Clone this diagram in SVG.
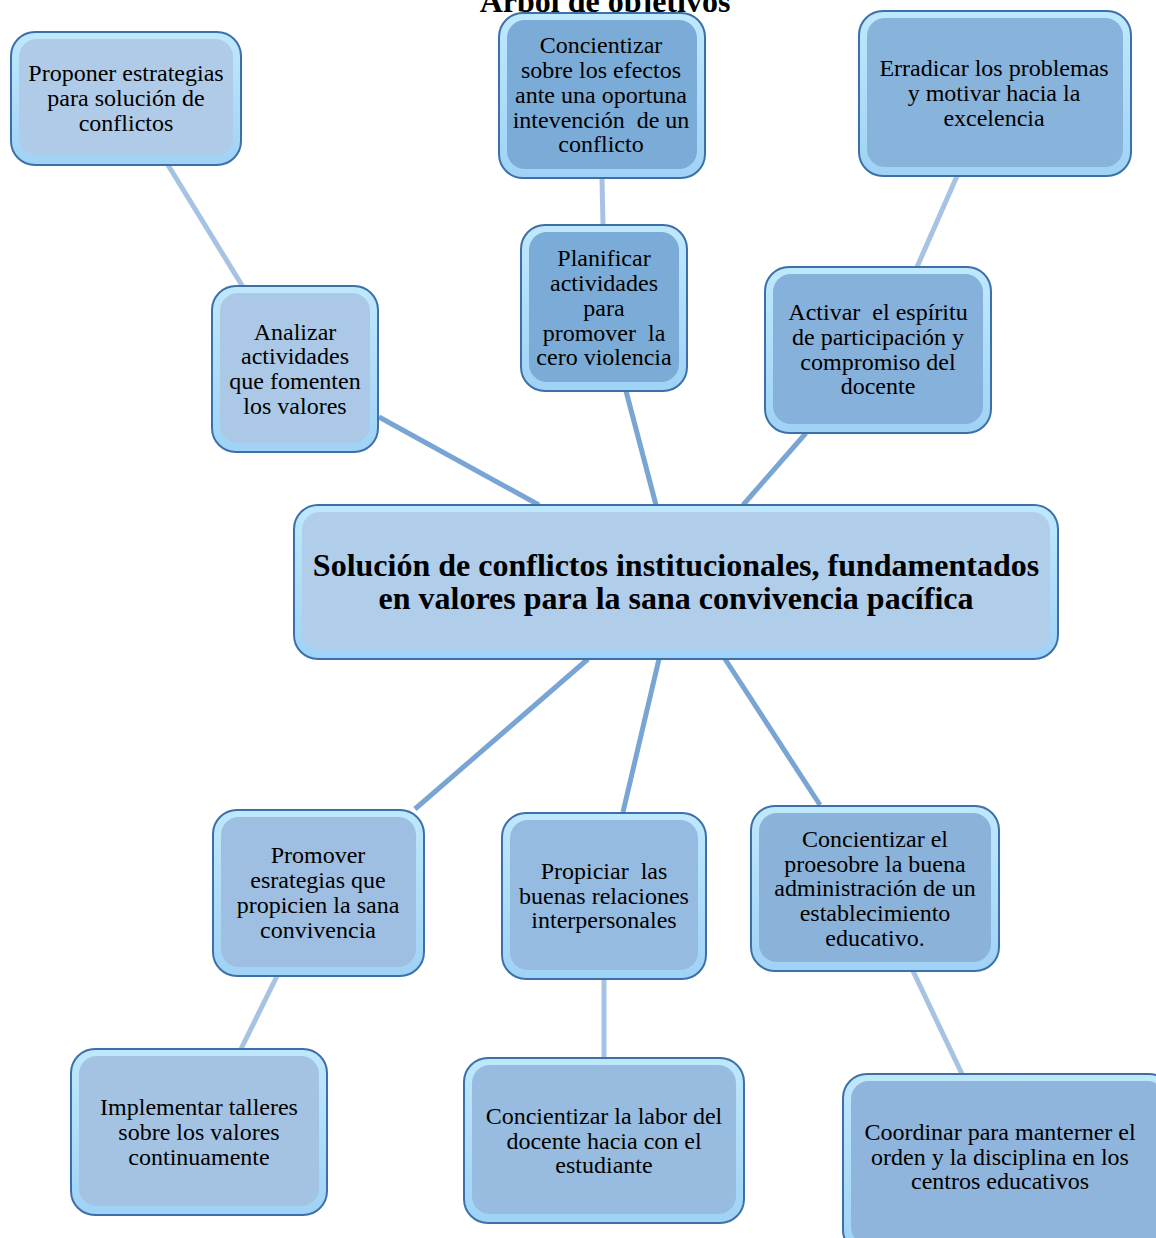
<svg xmlns="http://www.w3.org/2000/svg" width="1156" height="1238" viewBox="0 0 1156 1238">
<defs>
<linearGradient id="rim" x1="0" y1="0" x2="0" y2="1">
<stop offset="0" stop-color="#bfe8fd"/>
<stop offset="1" stop-color="#9fd2f5"/>
</linearGradient>
</defs>
<style>
.outer{fill:url(#rim);stroke:#3c70a9;stroke-width:2}
.t{font-family:"Liberation Serif","Times New Roman",serif;font-size:24px;fill:#000;text-anchor:middle}
.tb{font-family:"Liberation Serif","Times New Roman",serif;font-size:32px;font-weight:bold;fill:#000;text-anchor:middle}
.title{font-family:"Liberation Serif","Times New Roman",serif;font-size:32px;font-weight:bold;fill:#000;text-anchor:middle}
.cl{stroke:#a7c3e3;stroke-width:5;fill:none}
.cd{stroke:#78a5d4;stroke-width:5;fill:none}
</style>
<rect width="1156" height="1238" fill="#ffffff"/>
<text class="title" x="605" y="12">Árbol de objetivos</text>
<g id="connectors">
<line class="cl" x1="168" y1="165" x2="243" y2="287"/>
<line class="cl" x1="602" y1="178" x2="603" y2="225"/>
<line class="cl" x1="957" y1="176" x2="917" y2="267"/>
<line class="cd" x1="379" y1="417" x2="539" y2="505"/>
<line class="cd" x1="626" y1="391" x2="656" y2="505"/>
<line class="cd" x1="806" y1="433" x2="743" y2="505"/>
<line class="cd" x1="588" y1="659" x2="415" y2="809"/>
<line class="cd" x1="659" y1="659" x2="623" y2="812"/>
<line class="cd" x1="725" y1="659" x2="820" y2="805"/>
<line class="cl" x1="277" y1="976" x2="241" y2="1049"/>
<line class="cl" x1="604" y1="979" x2="604" y2="1058"/>
<line class="cl" x1="913" y1="971" x2="962" y2="1074"/>
</g>
<g id="n1">
<rect class="outer" x="11" y="32" width="230" height="133" rx="24"/>
<rect x="19" y="39" width="214" height="117" rx="18" fill="#afcbe7"/>
<text class="t" x="126" y="81">Proponer estrategias</text>
<text class="t" x="126" y="106">para solución de</text>
<text class="t" x="126" y="131">conflictos</text>
</g>
<g id="n2">
<rect class="outer" x="499" y="13" width="206" height="165" rx="24"/>
<rect x="507" y="20" width="190" height="149" rx="18" fill="#7bacd7"/>
<text class="t" x="601" y="53">Concientizar</text>
<text class="t" x="601" y="78">sobre los efectos</text>
<text class="t" x="601" y="103">ante una oportuna</text>
<text class="t" x="601" y="128" xml:space="preserve">intevención  de un</text>
<text class="t" x="601" y="152">conflicto</text>
</g>
<g id="n3">
<rect class="outer" x="859" y="11" width="272" height="165" rx="24"/>
<rect x="867" y="18" width="256" height="149" rx="18" fill="#88b3da"/>
<text class="t" x="994" y="76">Erradicar los problemas</text>
<text class="t" x="994" y="101">y motivar hacia la</text>
<text class="t" x="994" y="126">excelencia</text>
</g>
<g id="n4">
<rect class="outer" x="212" y="286" width="166" height="166" rx="24"/>
<rect x="220" y="293" width="150" height="150" rx="18" fill="#abc9e6"/>
<text class="t" x="295" y="340">Analizar</text>
<text class="t" x="295" y="364">actividades</text>
<text class="t" x="295" y="389">que fomenten</text>
<text class="t" x="295" y="414">los valores</text>
</g>
<g id="n5">
<rect class="outer" x="521" y="225" width="166" height="166" rx="24"/>
<rect x="529" y="232" width="150" height="150" rx="18" fill="#7bacd7"/>
<text class="t" x="604" y="266">Planificar</text>
<text class="t" x="604" y="291">actividades</text>
<text class="t" x="604" y="316">para</text>
<text class="t" x="604" y="341" xml:space="preserve">promover  la</text>
<text class="t" x="604" y="365">cero violencia</text>
</g>
<g id="n6">
<rect class="outer" x="765" y="267" width="226" height="166" rx="24"/>
<rect x="773" y="274" width="210" height="150" rx="18" fill="#86b1da"/>
<text class="t" x="878" y="320" xml:space="preserve">Activar  el espíritu</text>
<text class="t" x="878" y="345">de participación y</text>
<text class="t" x="878" y="370">compromiso del</text>
<text class="t" x="878" y="394">docente</text>
</g>
<g id="n7">
<rect class="outer" x="294" y="505" width="764" height="154" rx="24"/>
<rect x="302" y="512" width="748" height="138" rx="18" fill="#b0cde9"/>
<text class="tb" x="676" y="576">Solución de conflictos institucionales, fundamentados</text>
<text class="tb" x="676" y="609">en valores para la sana convivencia pacífica</text>
</g>
<g id="n8">
<rect class="outer" x="213" y="810" width="211" height="166" rx="24"/>
<rect x="221" y="817" width="195" height="150" rx="18" fill="#9ebfe1"/>
<text class="t" x="318" y="863">Promover</text>
<text class="t" x="318" y="888">esrategias que</text>
<text class="t" x="318" y="913">propicien la sana</text>
<text class="t" x="318" y="938">convivencia</text>
</g>
<g id="n9">
<rect class="outer" x="502" y="813" width="204" height="166" rx="24"/>
<rect x="510" y="820" width="188" height="150" rx="18" fill="#96bbe0"/>
<text class="t" x="604" y="879" xml:space="preserve">Propiciar  las</text>
<text class="t" x="604" y="904">buenas relaciones</text>
<text class="t" x="604" y="928">interpersonales</text>
</g>
<g id="n10">
<rect class="outer" x="751" y="806" width="248" height="165" rx="24"/>
<rect x="759" y="813" width="232" height="149" rx="18" fill="#8bb3da"/>
<text class="t" x="875" y="847">Concientizar el</text>
<text class="t" x="875" y="872">proesobre la buena</text>
<text class="t" x="875" y="896">administración de un</text>
<text class="t" x="875" y="921">establecimiento</text>
<text class="t" x="875" y="946">educativo.</text>
</g>
<g id="n11">
<rect class="outer" x="71" y="1049" width="256" height="166" rx="24"/>
<rect x="79" y="1056" width="240" height="150" rx="18" fill="#a4c3e3"/>
<text class="t" x="199" y="1115">Implementar talleres</text>
<text class="t" x="199" y="1140">sobre los valores</text>
<text class="t" x="199" y="1165">continuamente</text>
</g>
<g id="n12">
<rect class="outer" x="464" y="1058" width="280" height="165" rx="24"/>
<rect x="472" y="1065" width="264" height="149" rx="18" fill="#97bce0"/>
<text class="t" x="604" y="1124">Concientizar la labor del</text>
<text class="t" x="604" y="1149">docente hacia con el</text>
<text class="t" x="604" y="1173">estudiante</text>
</g>
<g id="n13">
<rect class="outer" x="843" y="1074" width="330" height="180" rx="24"/>
<rect x="851" y="1081" width="314" height="164" rx="18" fill="#8fb5dc"/>
<text class="t" x="1000" y="1140">Coordinar para manterner el</text>
<text class="t" x="1000" y="1165">orden y la disciplina en los</text>
<text class="t" x="1000" y="1189">centros educativos</text>
</g>
</svg>
